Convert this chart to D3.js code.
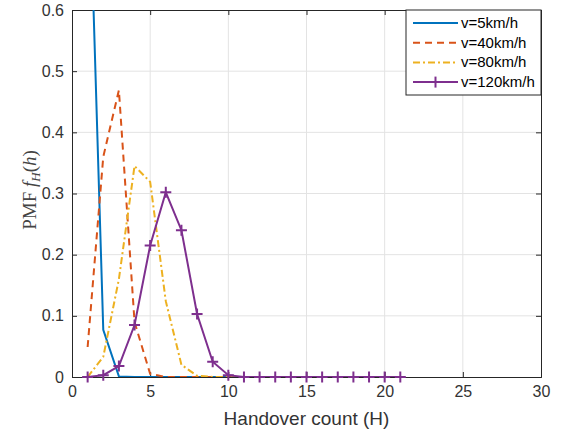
<!DOCTYPE html>
<html>
<head>
<script src="https://cdn.jsdelivr.net/npm/d3@7"></script>
<style>
  body { margin: 0; background: #fff; }
</style>
</head>
<body>
<script>

    // handover counts and PMF values
    var counts = d3.range(1, 22);
    var v5   = [0.92, 0.077, 0.001, 0, 0, 0, 0, 0, 0, 0, 0, 0, 0, 0, 0, 0, 0, 0, 0, 0, 0];
    var v40  = [0.049, 0.36, 0.469, 0.09, 0.005, 0, 0, 0, 0, 0, 0, 0, 0, 0, 0, 0, 0, 0, 0, 0, 0];
    var v80  = [0, 0.033, 0.16, 0.345, 0.319, 0.124, 0.02, 0.002, 0, 0, 0, 0, 0, 0, 0, 0, 0, 0, 0, 0, 0];
    var v120 = [0, 0.003, 0.018, 0.085, 0.215, 0.302, 0.24, 0.103, 0.025, 0.003, 0, 0, 0, 0, 0, 0, 0, 0, 0, 0, 0];
    var seriesNames = ["v=5km/h", "v=40km/h", "v=80km/h", "v=120km/h"];
    var xTicks = [0, 5, 10, 15, 20, 25, 30];
    var yTicks = [0, 0.1, 0.2, 0.3, 0.4, 0.5, 0.6];

    var width = 563,
        height = 435,
        plotLeft = 72, plotRight = 541,
        plotTop = 10, plotBottom = 377;

    var series = [
        { name: seriesNames[0], values: v5,   color: "#0072BD", dash: null,         marker: false },
        { name: seriesNames[1], values: v40,  color: "#D95319", dash: "7,5",        marker: false },
        { name: seriesNames[2], values: v80,  color: "#EDB120", dash: "7,3,2,3",    marker: false },
        { name: seriesNames[3], values: v120, color: "#7E2F8E", dash: null,         marker: true }
    ];

    var x = d3.scaleLinear().domain([0, 30]).range([plotLeft, plotRight]);
    var y = d3.scaleLinear().domain([0, 0.6]).range([plotBottom, plotTop]);

    var svg = d3.select("body")
                .append("svg")
                .attr("width", width)
                .attr("height", height);

    svg.append("defs").append("clipPath").attr("id", "plotclip")
       .append("rect")
       .attr("x", plotLeft).attr("y", plotTop)
       .attr("width", plotRight - plotLeft).attr("height", plotBottom - plotTop);

    // grid
    svg.append("g").selectAll("line")
       .data(xTicks.slice(1, -1))
       .enter().append("line")
       .attr("x1", (d) => x(d)).attr("x2", (d) => x(d))
       .attr("y1", plotTop).attr("y2", plotBottom)
       .attr("stroke", "#e3e3e3").attr("stroke-width", 1);

    svg.append("g").selectAll("line")
       .data(yTicks.slice(1, -1))
       .enter().append("line")
       .attr("x1", plotLeft).attr("x2", plotRight)
       .attr("y1", (d) => y(d)).attr("y2", (d) => y(d))
       .attr("stroke", "#e3e3e3").attr("stroke-width", 1);

    // axes, ticks inward
    var font = "'Liberation Sans', Arial, sans-serif";
    var xAxis = d3.axisBottom(x).tickValues(xTicks).tickSize(-5).tickPadding(9).tickFormat(d3.format("d"));
    var yAxis = d3.axisLeft(y).tickValues(yTicks).tickSize(-5).tickPadding(8).tickFormat((d) => d === 0 ? "0" : d3.format(".1f")(d));
    var xTop = d3.axisTop(x).tickValues(xTicks).tickSize(-5).tickFormat("");
    var yRight = d3.axisRight(y).tickValues(yTicks).tickSize(-5).tickFormat("");

    [[xAxis, 0, plotBottom], [yAxis, plotLeft, 0], [xTop, 0, plotTop], [yRight, plotRight, 0]].forEach(function (a) {
        var g = svg.append("g")
                   .attr("transform", "translate(" + a[1] + "," + a[2] + ")")
                   .call(a[0]);
        g.select(".domain").attr("stroke", "#262626").attr("stroke-width", 1);
        g.selectAll(".tick line").attr("stroke", "#262626");
        g.selectAll("text").attr("font-family", font).attr("font-size", 16).attr("fill", "#333");
    });

    // lines
    var line = d3.line()
                 .x((d) => x(d[0]))
                 .y((d) => y(d[1]));

    var plot = svg.append("g").attr("clip-path", "url(#plotclip)");
    var marks = svg.append("g");

    series.forEach(function (s) {
        var pts = counts.map((c, i) => [c, s.values[i]]);
        plot.append("path")
            .datum(pts)
            .attr("d", line)
            .attr("fill", "none")
            .attr("stroke", s.color)
            .attr("stroke-width", 2)
            .attr("stroke-dasharray", s.dash);
        if (s.marker) {
            marks.selectAll(null)
                .data(pts)
                .enter().append("path")
                .attr("d", (d) => "M" + (x(d[0]) - 5.5) + "," + y(d[1]) + "h11M" + x(d[0]) + "," + (y(d[1]) - 5.5) + "v11")
                .attr("stroke", s.color)
                .attr("stroke-width", 2);
        }
    });

    // legend
    var lg = svg.append("g");
    lg.append("rect")
      .attr("x", 406).attr("y", 10)
      .attr("width", 135).attr("height", 85)
      .attr("fill", "#fff").attr("stroke", "#262626").attr("stroke-width", 1);

    series.forEach(function (s, i) {
        var ly = 23 + i * 19.7;
        lg.append("line")
          .attr("x1", 413).attr("x2", 458)
          .attr("y1", ly).attr("y2", ly)
          .attr("stroke", s.color).attr("stroke-width", 2)
          .attr("stroke-dasharray", s.dash);
        if (s.marker) {
            lg.append("path")
              .attr("d", "M" + 435.5 + "," + (ly - 5.5) + "v11")
              .attr("stroke", s.color).attr("stroke-width", 2);
        }
        lg.append("text")
          .attr("x", 461).attr("y", ly + 5)
          .attr("font-family", font).attr("font-size", 15)
          .attr("fill", "#000")
          .text(s.name);
    });

    // axis labels
    svg.append("text")
       .attr("x", (plotLeft + plotRight) / 2).attr("y", 425)
       .attr("text-anchor", "middle")
       .attr("font-family", font).attr("font-size", 19).attr("fill", "#333")
       .text("Handover count (H)");

    var yl = svg.append("text")
       .attr("transform", "translate(36,190) rotate(-90)")
       .attr("text-anchor", "middle")
       .attr("font-family", "'Liberation Serif', 'Times New Roman', serif")
       .attr("font-size", 19).attr("fill", "#444");
    yl.append("tspan").text("PMF ");
    yl.append("tspan").attr("font-style", "italic").text("f");
    yl.append("tspan").attr("font-style", "italic").attr("font-size", 13).attr("dy", 4).text("H");
    yl.append("tspan").attr("dy", -4).text("(");
    yl.append("tspan").attr("font-style", "italic").text("h");
    yl.append("tspan").text(")");

</script>
</body>
</html>
